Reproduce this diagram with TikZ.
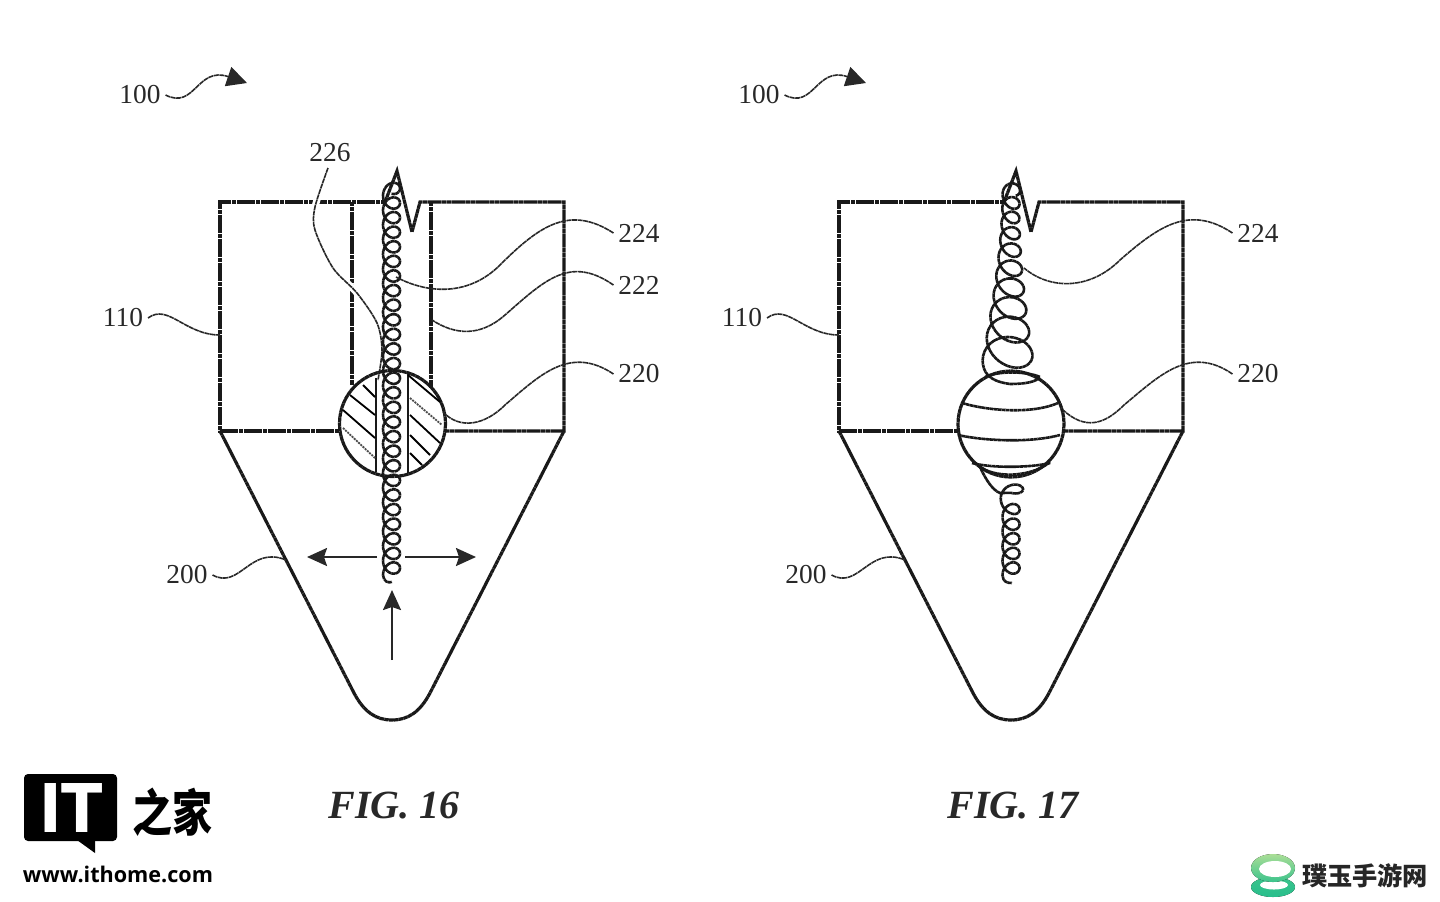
\documentclass[tikz,border=0pt]{standalone}
\usepackage{fontspec}
\usetikzlibrary{arrows.meta}
\setmainfont{Liberation Serif}
\newfontfamily\logofont{DejaVu Sans}
\newfontfamily\urlfont{Open Sans}
\newfontfamily\cjkfont{Noto Sans CJK SC}
\definecolor{inkgrey}{RGB}{40,40,40}
\definecolor{ringtop}{RGB}{170,222,150}
\definecolor{ringlow}{RGB}{60,195,140}
\definecolor{ringdark}{RGB}{40,190,140}
\tikzset{
  wall/.style   = {draw=black!90, line width=1.6pt, dash pattern=on 2.2pt off 0.2pt},
  coil/.style   = {draw=black!90, line width=1.3pt, dash pattern=on 1.8pt off 0.2pt},
  hatch/.style  = {draw=black, line width=0.9pt},
  hatchb/.style = {draw=black!70, line width=0.9pt, dash pattern=on 1pt off 0.5pt},
  leader/.style = {draw=inkgrey, line width=0.8pt, dash pattern=on 2.5pt off 0.3pt},
  haloed/.style = {preaction={draw=white, line width=3.5pt, solid}},
  thrust/.style = {draw=inkgrey, line width=1.1pt, -{Stealth[length=10pt,width=9pt,inset=1.5pt]}},
  numlabel/.style = {text=inkgrey, font=\fontsize{13.7}{14}\selectfont, inner sep=0pt, outer sep=2.5pt},
  figlabel/.style = {text=inkgrey, font=\fontsize{20}{22}\selectfont\bfseries\itshape, inner sep=0pt}
}
\begin{document}
\begin{tikzpicture}[x=0.5pt, y=-0.5pt]
  \useasboundingbox (0,0) rectangle (1440,901);

  % parts common to both figures
  \foreach \dx/\nm/\fignum in {0/a/16, 619/b/17}
  {
  \begin{scope}[shift={(\dx,0)}]
    \draw[wall] (385,202) -- (220,202) -- (220,431) -- (340,431);
    \draw[wall] (445,431) -- (564,431) -- (564,202) -- (420,202) -- (412,232) -- (397,171) -- (385,202);
    \draw[wall] (220,431) -- (354,693) .. controls (364,712) and (376,720) .. (392,720)
      .. controls (408,720) and (420,712) .. (430,693) -- (564,431);

    \node[numlabel] (hundred\nm) at (140,95) {100};
    \node[numlabel] (body\nm) at (123,318) {110};
    \node[numlabel] (tip\nm) at (187,575) {200};
    \node[figlabel] (fig\nm) at (394,806) {FIG. \fignum};
    \coordinate (bodyend\nm) at (220,335);
    \coordinate (tipend\nm) at (286,560);
    \coordinate (hundredend\nm) at (247,83);

    \draw[leader] (body\nm.east) .. controls (168,303) and (185,335) .. (bodyend\nm);
    \draw[leader] (tip\nm.east) .. controls (240,590) and (250,545) .. (tipend\nm);
    \draw[leader, -{Triangle[length=10pt,width=10pt]}] (hundred\nm.east) .. controls (195,110) and (197,66) .. (hundredend\nm);
  \end{scope}
  }

  % FIG. 16
  \draw[wall] (352,202) -- (352,385);
  \draw[wall] (431,202) -- (431,388);
  \draw[leader, haloed] plot[smooth] coordinates {(328,168) (315,207) (315,230) (333,268) (357,293) (377,323) (382,350) (378,380)};

  \draw[wall] (392.5,423.5) circle [radius=53];
  \draw[coil, line width=1.1pt] (376,378) -- (376,472);
  \draw[coil, line width=1.1pt] (408,374) -- (408,473);
  \foreach \xa/\ya/\xb/\yb in {363/385/375/397, 350/395/375/415, 343/410/375/438, 408/375/440/402, 410/415/440/443, 410/435/430/455, 410/453/422/465}
    \draw[hatch] (\xa,\ya) -- (\xb,\yb);
  \foreach \xa/\ya/\xb/\yb in {343/428/375/458, 410/398/442/425}
    \draw[hatchb] (\xa,\ya) -- (\xb,\yb);

  \draw[coil] plot[domain=-450:9180, samples=800] ({391.5+8.5*cos(\x)}, {203+\x/360*14.6-9*sin(\x)})
    .. controls (384,582) and (388,583) .. (392,582);

  \coordinate (leftstem) at (377,557);
  \coordinate (lefttip) at (307,557);
  \coordinate (rightstem) at (405,557);
  \coordinate (righttip) at (476,557);
  \coordinate (upstem) at (392,660);
  \coordinate (uptip) at (392,590);
  \draw[thrust] (leftstem) -- (lefttip);
  \draw[thrust] (rightstem) -- (righttip);
  \draw[thrust] (upstem) -- (uptip);

  \node[numlabel] (coilnum) at (639,233) {224};
  \node[numlabel] (sleevenum) at (639,285) {222};
  \node[numlabel] (ballnum) at (639,374) {220};
  \node[numlabel] (gapnum) at (330,153) {226};
  \coordinate (coilend) at (396,277);
  \coordinate (sleeveend) at (432,320);
  \coordinate (ballend) at (443,412);
  \draw[leader] (coilnum.west) .. controls (570,205) and (540,225) .. (500,265) .. controls (470,295) and (430,295) .. (coilend);
  \draw[leader] (sleevenum.west) .. controls (570,255) and (545,280) .. (505,315) .. controls (480,337) and (455,335) .. (sleeveend);
  \draw[leader] (ballnum.west) .. controls (570,345) and (540,375) .. (505,405) .. controls (485,425) and (460,430) .. (ballend);

  % FIG. 17
  \draw[wall] (1011,424) circle [radius=53];
  \draw[coil] plot[domain=-420:3060, samples=320]
    ({1011-0.03*\x/36+(8.5+0.24*(\x/360)^2)*cos(\x)},
     {203+\x/360*14+0.6*(\x/360)^2-(9+0.18*(\x/360)^2)*sin(\x)+0.15*(8.5+0.24*(\x/360)^2)*(cos(\x)-0.3)})
    .. controls (983,372) and (988,381) .. (1010,384)
    .. controls (1025,384) and (1036,382) .. (1040,377)
    .. controls (1030,372) and (1000,370) .. (985,377);
  \draw[coil] (962,403) .. controls (985,410) and (1030,415) .. (1058,403);
  \draw[coil] (958,435) .. controls (985,441) and (1030,443) .. (1060,435);
  \draw[coil] (972,463) .. controls (990,468) and (1030,468) .. (1050,463);
  \draw[coil] (1050,462) .. controls (1035,475) and (1000,480) .. (980,467)
    .. controls (985,478) and (992,490) .. (1000,493)
    -- plot[domain=-90:1980, samples=180]
    ({1011+(8.5+3.5*max(0,1-\x/360))*cos(\x)}, {568+14.6*(\x/360-5)-6*max(0,1-\x/360)-9*sin(\x)})
    .. controls (1003,582) and (1007,583) .. (1012,583);

  \node[numlabel] (coilnumb) at (1258,233) {224};
  \node[numlabel] (ballnumb) at (1258,374) {220};
  \coordinate (coilendb) at (1024,268);
  \coordinate (ballendb) at (1063,410);
  \draw[leader] (coilnumb.west) .. controls (1190,205) and (1160,225) .. (1120,260) .. controls (1090,290) and (1050,290) .. (coilendb);
  \draw[leader] (ballnumb.west) .. controls (1190,345) and (1160,375) .. (1124,405) .. controls (1104,425) and (1085,430) .. (ballendb);

  % logo, lower left
  \fill[black, rounded corners=2pt] (24,774) rectangle (117,841);
  \fill[black] (77,840) -- (95,853) -- (95,840) -- cycle;
  \node[text=white, inner sep=0pt, xscale=0.9, font=\logofont\bfseries\fontsize{33.6}{34}\selectfont] (itmark) at (71,808) {IT};
  \node[text=black, inner sep=0pt, yscale=1.25, font=\cjkfont\bfseries\fontsize{20}{22}\selectfont] (homemark) at (172,812) {之家};
  \node[text=black, inner sep=0pt, font=\urlfont\bfseries\fontsize{10.8}{12}\selectfont] (urlmark) at (118,874) {www.ithome.com};

  % logo, lower right
  \fill[bottom color=ringdark, top color=ringlow] (1273,887) ellipse [x radius=22, y radius=10];
  \fill[white] (1274,885) ellipse [x radius=14, y radius=4.5];
  \fill[top color=ringtop, bottom color=ringlow] (1273,868) ellipse [x radius=22, y radius=14];
  \fill[white] (1275,869) ellipse [x radius=16, y radius=8];
  \node[text=black!85, inner sep=0pt, font=\cjkfont\bfseries\fontsize{12.6}{14}\selectfont] (sitemark) at (1365,876) {璞玉手游网};
\end{tikzpicture}
\end{document}
